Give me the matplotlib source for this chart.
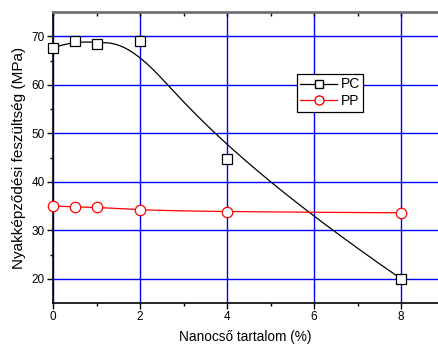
import numpy as np
import matplotlib
matplotlib.use("Agg")
import matplotlib.pyplot as plt
import matplotlib.lines as mlines
from matplotlib.lines import Line2D

plt.rcParams['font.family'] = ['Liberation Sans', 'DejaVu Sans']

x_vals = [0, 0.5, 1, 2, 4, 8]
pc_vals = [67.6, 69.1, 68.5, 69.0, 44.7, 20.0]
pp_vals = [35.0, 34.8, 34.8, 34.1, 33.8, 33.6]
x_ticks = [0, 2, 4, 6, 8]
y_ticks = [20, 30, 40, 50, 60, 70]


def basis(i, k, t, knots):
    if k == 0:
        if knots[i + 1] == knots[-1]:
            return ((t >= knots[i]) & (t <= knots[i + 1])).astype(float) * (knots[i] < knots[i + 1])
        return ((t >= knots[i]) & (t < knots[i + 1])).astype(float)
    out = np.zeros_like(t)
    d1 = knots[i + k] - knots[i]
    if d1 > 0:
        out += (t - knots[i]) / d1 * basis(i, k - 1, t, knots)
    d2 = knots[i + k + 1] - knots[i + 1]
    if d2 > 0:
        out += (knots[i + k + 1] - t) / d2 * basis(i + 1, k - 1, t, knots)
    return out


def bspline(cx, cy, k=3, n=300):
    cx = np.asarray(cx, float)
    cy = np.asarray(cy, float)
    m = len(cx)
    knots = np.concatenate([np.zeros(k), np.linspace(0, 1, m - k + 1), np.ones(k)])
    t = np.linspace(0, 1, n)
    B = np.array([basis(i, k, t, knots) for i in range(m)])
    return B.T @ cx, B.T @ cy


fig = plt.figure(figsize=(4.38, 3.45), dpi=100)
ax = fig.add_axes([53 / 438, 1 - 303 / 345, 1 - 53 / 438, (303 - 12) / 345])
ax.set_xlim(0, 8.85)
ax.set_ylim(15, 75)

for xv in x_ticks:
    ax.axvline(xv, color='#0000ff', lw=1.0, zorder=1)
for yv in y_ticks:
    ax.axhline(yv, color='#0000ff', lw=1.0, zorder=1)

sx, sy = bspline(x_vals, pc_vals)
ax.plot(sx, sy, color='black', lw=0.9, zorder=3)
ax.plot(x_vals, pc_vals, ls='none', marker='s', ms=7, mfc='white', mec='black', mew=0.9, zorder=4, clip_on=False)

sx2, sy2 = bspline(x_vals, pp_vals)
ax.plot(sx2, sy2, color='red', lw=0.9, zorder=3)
ax.plot(x_vals, pp_vals, ls='none', marker='o', ms=7.5, mfc='white', mec='red', mew=0.9, zorder=4, clip_on=False)

ax.set_xticks(x_ticks)
ax.set_yticks(y_ticks)
ax.set_xticks([1, 3, 5, 7], minor=True)
ax.set_yticks([25, 35, 45, 55, 65], minor=True)
ax.tick_params(axis='both', which='major', direction='out', length=4, width=1, labelsize=8.5, pad=2)
ax.tick_params(axis='both', which='minor', direction='out', length=2.5, width=1)
ax.tick_params(axis='x', which='both', top=True, labeltop=False)
ax.spines['right'].set_visible(False)
ax.spines['top'].set_color('#707070')
ax.spines['top'].set_linewidth(2)
ax.spines['left'].set_linewidth(1.2)
ax.spines['bottom'].set_linewidth(1.2)

for tk in ax.xaxis.get_major_ticks() + ax.xaxis.get_minor_ticks():
    tk.tick2line.set_marker(mlines.TICKDOWN)
    tk.tick2line.set_markersize(3)

ax.set_xlabel('Nanocső tartalom (%)', fontsize=9.8, labelpad=5)
ax.set_ylabel('Nyakképződési feszültség (MPa)', fontsize=11, labelpad=4)

handles = [
    Line2D([], [], color='black', lw=0.9, marker='s', ms=6, mfc='white', mec='black'),
    Line2D([], [], color='red', lw=0.9, marker='o', ms=6.5, mfc='white', mec='red'),
]
leg = ax.legend(handles, ['PC', 'PP'], loc='upper left', bbox_to_anchor=((297 - 53) / 385, (303 - 74) / 291),
                fontsize=10, frameon=True, fancybox=False, edgecolor='black', framealpha=1,
                handlelength=2.6, handletextpad=0.3, borderpad=0.25, labelspacing=0.2, borderaxespad=0)
leg.get_frame().set_linewidth(0.9)
leg.set_zorder(5)

fig.savefig('out.png', dpi=100)
